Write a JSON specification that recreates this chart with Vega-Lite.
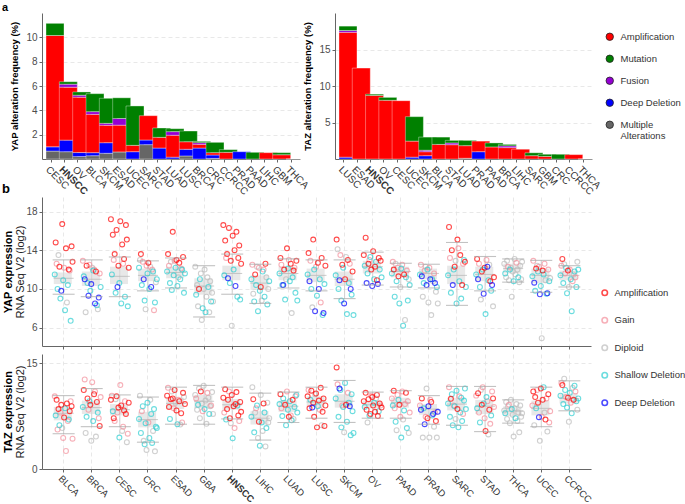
{
"$schema":"https://vega.github.io/schema/vega-lite/v6.json",
"padding":{"left":1,"top":2,"right":0,"bottom":0},
"background":"white",
"config":{
 "font":"Liberation Sans",
 "view":{"stroke":null},
 "axis":{"labelColor":"#4d4d4d","labelFontSize":10,"titleColor":"#000","titleFontSize":11,"domainColor":"#666","tickColor":"#666","tickSize":3,"gridColor":"#e2e2e2","gridDash":[4,3],"gridWidth":0.8,"labelPadding":2},
 "legend":{"labelFontSize":9.5,"labelColor":"#333"}
},
"datasets":{
"yapBar":[
{"t":"CESC","a":1,"v":0.65},{"t":"CESC","a":2,"v":0.35},{"t":"CESC","a":3,"v":9.15},{"t":"CESC","a":5,"v":1.0},
{"t":"HNSCC","a":1,"v":0.6},{"t":"HNSCC","a":2,"v":0.95},{"t":"HNSCC","a":3,"v":4.35},{"t":"HNSCC","a":4,"v":0.25},{"t":"HNSCC","a":5,"v":0.2},
{"t":"OV","a":1,"v":0.2},{"t":"OV","a":2,"v":0.33},{"t":"OV","a":3,"v":4.55},{"t":"OV","a":4,"v":0.16},{"t":"OV","a":5,"v":0.27},
{"t":"BLCA","a":1,"v":0.27},{"t":"BLCA","a":2,"v":0.25},{"t":"BLCA","a":3,"v":3.15},{"t":"BLCA","a":4,"v":0.22},{"t":"BLCA","a":5,"v":1.48},
{"t":"SKCM","a":1,"v":0.47},{"t":"SKCM","a":2,"v":0.87},{"t":"SKCM","a":3,"v":1.43},{"t":"SKCM","a":4,"v":0.16},{"t":"SKCM","a":5,"v":2.06},
{"t":"ESAD","a":1,"v":0.58},{"t":"ESAD","a":3,"v":2.2},{"t":"ESAD","a":4,"v":0.55},{"t":"ESAD","a":5,"v":1.7},
{"t":"UCEC","a":2,"v":0.6},{"t":"UCEC","a":3,"v":0.52},{"t":"UCEC","a":5,"v":3.24},
{"t":"SARC","a":1,"v":1.18},{"t":"SARC","a":2,"v":0.38},{"t":"SARC","a":3,"v":2.0},
{"t":"STAD","a":2,"v":0.9},{"t":"STAD","a":3,"v":0.88},{"t":"STAD","a":5,"v":0.77},
{"t":"LUAD","a":2,"v":0.15},{"t":"LUAD","a":3,"v":1.8},{"t":"LUAD","a":4,"v":0.3},{"t":"LUAD","a":5,"v":0.24},
{"t":"LUSC","a":1,"v":0.25},{"t":"LUSC","a":2,"v":0.55},{"t":"LUSC","a":3,"v":0.62},{"t":"LUSC","a":5,"v":0.88},
{"t":"BRCA","a":2,"v":0.9},{"t":"BRCA","a":3,"v":0.3},{"t":"BRCA","a":4,"v":0.14},{"t":"BRCA","a":5,"v":0.11},
{"t":"CRC","a":1,"v":0.05},{"t":"CRC","a":2,"v":0.28},{"t":"CRC","a":3,"v":0.19},{"t":"CRC","a":5,"v":0.85},
{"t":"CCRCC","a":3,"v":0.55},{"t":"CCRCC","a":5,"v":0.22},
{"t":"PRAD","a":2,"v":0.6},
{"t":"PAAD","a":5,"v":0.55},
{"t":"LIHC","a":3,"v":0.52},
{"t":"GBM","a":3,"v":0.35},{"t":"GBM","a":5,"v":0.17},
{"t":"THCA","a":3,"v":0}
],
"tazBar":[
{"t":"LUSC","a":2,"v":0.25},{"t":"LUSC","a":3,"v":17.1},{"t":"LUSC","a":4,"v":0.25},{"t":"LUSC","a":5,"v":0.6},
{"t":"ESAD","a":3,"v":12.45},
{"t":"HNSCC","a":3,"v":8.7},{"t":"HNSCC","a":5,"v":0.18},
{"t":"OV","a":3,"v":8.04},{"t":"OV","a":5,"v":0.4},
{"t":"CESC","a":3,"v":7.99},
{"t":"UCEC","a":2,"v":0.25},{"t":"UCEC","a":3,"v":2.2},{"t":"UCEC","a":5,"v":3.35},
{"t":"SKCM","a":2,"v":0.45},{"t":"SKCM","a":3,"v":0.55},{"t":"SKCM","a":4,"v":0.2},{"t":"SKCM","a":5,"v":1.8},
{"t":"BLCA","a":3,"v":2.0},{"t":"BLCA","a":5,"v":1.0},
{"t":"STAD","a":3,"v":1.96},{"t":"STAD","a":4,"v":0.24},{"t":"STAD","a":5,"v":0.35},
{"t":"LUAD","a":1,"v":0.1},{"t":"LUAD","a":3,"v":1.73},{"t":"LUAD","a":5,"v":0.72},
{"t":"PRAD","a":2,"v":1.0},{"t":"PRAD","a":3,"v":1.45},
{"t":"PAAD","a":3,"v":1.65},{"t":"PAAD","a":5,"v":0.55},
{"t":"BRCA","a":3,"v":1.56},{"t":"BRCA","a":4,"v":0.24},{"t":"BRCA","a":5,"v":0.2},
{"t":"LIHC","a":3,"v":1.34},
{"t":"SARC","a":3,"v":0.45},{"t":"SARC","a":5,"v":0.4},
{"t":"GBM","a":3,"v":0.35},{"t":"GBM","a":5,"v":0.3},
{"t":"CRC","a":5,"v":0.65},
{"t":"CCRCC","a":3,"v":0.6},
{"t":"THCA","a":3,"v":0}
],
"yapBox":[
{"t":"BLCA","lo":9.45,"q1":10.5,"md":11.1,"q3":11.7,"hi":13.0},
{"t":"BRCA","lo":9.2,"q1":10.3,"md":11.0,"q3":11.8,"hi":13.0},
{"t":"CESC","lo":9.2,"q1":10.5,"md":11.3,"q3":12.3,"hi":13.3},
{"t":"CRC","lo":9.8,"q1":10.8,"md":11.4,"q3":12.1,"hi":12.9},
{"t":"ESAD","lo":10.1,"q1":11.1,"md":11.7,"q3":12.3,"hi":13.2},
{"t":"GBA","lo":7.1,"q1":9.4,"md":10.3,"q3":11.1,"hi":12.4},
{"t":"HNSCC","lo":9.45,"q1":10.9,"md":11.6,"q3":12.4,"hi":13.6},
{"t":"LIHC","lo":8.5,"q1":9.9,"md":10.6,"q3":11.4,"hi":12.55},
{"t":"LUAD","lo":10.1,"q1":10.9,"md":11.6,"q3":12.3,"hi":13.1},
{"t":"LUSC","lo":9.8,"q1":10.7,"md":11.4,"q3":12.1,"hi":13.0},
{"t":"SKCM","lo":9.0,"q1":10.3,"md":11.0,"q3":11.8,"hi":13.0},
{"t":"OV","lo":10.4,"q1":11.6,"md":12.3,"q3":12.9,"hi":13.8},
{"t":"PAAD","lo":10.2,"q1":11.2,"md":11.8,"q3":12.3,"hi":12.65},
{"t":"PRAD","lo":10.1,"q1":11.0,"md":11.6,"q3":12.1,"hi":12.55},
{"t":"SARC","lo":8.3,"q1":10.5,"md":11.4,"q3":12.4,"hi":14.8},
{"t":"STAD","lo":9.8,"q1":10.8,"md":11.5,"q3":12.3,"hi":13.35},
{"t":"THCA","lo":10.7,"q1":11.6,"md":12.1,"q3":12.6,"hi":13.1},
{"t":"UCEC","lo":9.65,"q1":10.6,"md":11.4,"q3":12.1,"hi":12.95},
{"t":"CCRCC","lo":10.2,"q1":10.9,"md":11.4,"q3":11.9,"hi":12.4}
],
"tazBox":[
{"t":"BLCA","lo":5.0,"q1":6.9,"md":7.9,"q3":8.8,"hi":10.4},
{"t":"BRCA","lo":6.0,"q1":7.8,"md":8.7,"q3":9.7,"hi":11.4},
{"t":"CESC","lo":6.0,"q1":7.6,"md":8.4,"q3":9.2,"hi":10.5},
{"t":"CRC","lo":3.8,"q1":5.9,"md":7.0,"q3":8.1,"hi":10.2},
{"t":"ESAD","lo":6.35,"q1":8.5,"md":9.3,"q3":10.1,"hi":11.6},
{"t":"GBA","lo":6.35,"q1":8.6,"md":9.6,"q3":10.5,"hi":11.85},
{"t":"HNSCC","lo":7.1,"q1":8.4,"md":9.1,"q3":9.9,"hi":11.6},
{"t":"LIHC","lo":4.1,"q1":6.3,"md":7.2,"q3":8.2,"hi":10.75},
{"t":"LUAD","lo":6.6,"q1":8.1,"md":8.9,"q3":9.7,"hi":10.9},
{"t":"LUSC","lo":7.2,"q1":8.8,"md":9.5,"q3":10.3,"hi":11.6},
{"t":"SKCM","lo":6.6,"q1":8.7,"md":9.6,"q3":10.6,"hi":12.55},
{"t":"OV","lo":7.2,"q1":8.6,"md":9.1,"q3":9.7,"hi":10.9},
{"t":"PAAD","lo":7.2,"q1":8.7,"md":9.4,"q3":10.1,"hi":11.1},
{"t":"PRAD","lo":6.35,"q1":7.7,"md":8.5,"q3":9.2,"hi":10.4},
{"t":"SARC","lo":6.2,"q1":8.3,"md":9.2,"q3":10.1,"hi":11.7},
{"t":"STAD","lo":5.3,"q1":7.8,"md":8.9,"q3":9.8,"hi":11.7},
{"t":"THCA","lo":6.5,"q1":7.5,"md":8.2,"q3":8.9,"hi":9.8},
{"t":"UCEC","lo":6.0,"q1":7.6,"md":8.6,"q3":9.7,"hi":11.6},
{"t":"CCRCC","lo":8.25,"q1":9.3,"md":10.0,"q3":10.7,"hi":12.5}
],
"yapPts":[
{"t":"BLCA","c":3,"v":11.5},{"t":"BLCA","c":4,"v":14.8},{"t":"BLCA","c":2,"v":12.6},{"t":"BLCA","c":3,"v":10.0},{"t":"BLCA","c":1,"v":13.5},{"t":"BLCA","c":4,"v":12.3},{"t":"BLCA","c":3,"v":9.0},{"t":"BLCA","c":5,"v":9.8},{"t":"BLCA","c":4,"v":16.7},{"t":"BLCA","c":3,"v":10.9},{"t":"BLCA","c":2,"v":12.2},{"t":"BLCA","c":3,"v":7.8},{"t":"BLCA","c":4,"v":14.2},{"t":"BLCA","c":1,"v":8.6},{"t":"BLCA","c":3,"v":10.4},{"t":"BLCA","c":4,"v":12.0},{"t":"BLCA","c":2,"v":11.9},{"t":"BLCA","c":3,"v":6.7},{"t":"BLCA","c":4,"v":14.4},{"t":"BLCA","c":4,"v":12.8},
{"t":"BRCA","c":2,"v":12.9},{"t":"BRCA","c":3,"v":11.3},{"t":"BRCA","c":5,"v":11.0},{"t":"BRCA","c":1,"v":7.6},{"t":"BRCA","c":4,"v":12.4},{"t":"BRCA","c":3,"v":10.6},{"t":"BRCA","c":5,"v":9.3},{"t":"BRCA","c":2,"v":12.5},{"t":"BRCA","c":3,"v":9.8},{"t":"BRCA","c":5,"v":10.5},{"t":"BRCA","c":1,"v":12.2},{"t":"BRCA","c":3,"v":11.9},{"t":"BRCA","c":2,"v":12.0},{"t":"BRCA","c":5,"v":8.5},{"t":"BRCA","c":4,"v":11.8},{"t":"BRCA","c":3,"v":8.3},{"t":"BRCA","c":1,"v":7.9},{"t":"BRCA","c":5,"v":9.1},{"t":"BRCA","c":2,"v":11.6},{"t":"BRCA","c":3,"v":10.2},
{"t":"CESC","c":4,"v":17.2},{"t":"CESC","c":3,"v":11.5},{"t":"CESC","c":4,"v":15.6},{"t":"CESC","c":2,"v":13.0},{"t":"CESC","c":4,"v":13.6},{"t":"CESC","c":3,"v":9.6},{"t":"CESC","c":4,"v":16.1},{"t":"CESC","c":5,"v":10.2},{"t":"CESC","c":4,"v":12.4},{"t":"CESC","c":3,"v":10.6},{"t":"CESC","c":4,"v":17.0},{"t":"CESC","c":3,"v":8.5},{"t":"CESC","c":4,"v":14.6},{"t":"CESC","c":2,"v":12.6},{"t":"CESC","c":4,"v":13.1},{"t":"CESC","c":3,"v":9.2},{"t":"CESC","c":4,"v":16.6},{"t":"CESC","c":4,"v":15.1},{"t":"CESC","c":3,"v":8.2},{"t":"CESC","c":4,"v":12.2},
{"t":"CRC","c":3,"v":12.2},{"t":"CRC","c":1,"v":13.0},{"t":"CRC","c":4,"v":13.6},{"t":"CRC","c":3,"v":10.4},{"t":"CRC","c":2,"v":12.8},{"t":"CRC","c":5,"v":11.0},{"t":"CRC","c":3,"v":8.8},{"t":"CRC","c":1,"v":7.9},{"t":"CRC","c":2,"v":12.4},{"t":"CRC","c":3,"v":11.6},{"t":"CRC","c":4,"v":12.7},{"t":"CRC","c":3,"v":10.0},{"t":"CRC","c":1,"v":12.3},{"t":"CRC","c":5,"v":10.2},{"t":"CRC","c":2,"v":12.0},{"t":"CRC","c":3,"v":11.8},{"t":"CRC","c":2,"v":7.8},{"t":"CRC","c":3,"v":8.6},{"t":"CRC","c":1,"v":10.7},{"t":"CRC","c":3,"v":11.0},
{"t":"ESAD","c":3,"v":11.8},{"t":"ESAD","c":4,"v":13.6},{"t":"ESAD","c":2,"v":12.4},{"t":"ESAD","c":3,"v":10.6},{"t":"ESAD","c":1,"v":12.8},{"t":"ESAD","c":3,"v":9.9},{"t":"ESAD","c":4,"v":15.9},{"t":"ESAD","c":3,"v":11.4},{"t":"ESAD","c":2,"v":12.9},{"t":"ESAD","c":3,"v":12.2},{"t":"ESAD","c":4,"v":13.0},{"t":"ESAD","c":3,"v":10.3},{"t":"ESAD","c":1,"v":11.2},{"t":"ESAD","c":4,"v":12.7},{"t":"ESAD","c":3,"v":11.0},{"t":"ESAD","c":2,"v":12.1},{"t":"ESAD","c":3,"v":12.0},{"t":"ESAD","c":4,"v":13.3},{"t":"ESAD","c":3,"v":9.6},{"t":"ESAD","c":3,"v":11.6},
{"t":"GBA","c":1,"v":12.3},{"t":"GBA","c":3,"v":9.4},{"t":"GBA","c":1,"v":10.4},{"t":"GBA","c":1,"v":8.2},{"t":"GBA","c":4,"v":10.0},{"t":"GBA","c":3,"v":11.0},{"t":"GBA","c":1,"v":11.6},{"t":"GBA","c":1,"v":6.8},{"t":"GBA","c":3,"v":8.0},{"t":"GBA","c":1,"v":10.0},{"t":"GBA","c":1,"v":12.0},{"t":"GBA","c":3,"v":7.6},{"t":"GBA","c":1,"v":9.2},{"t":"GBA","c":1,"v":11.2},{"t":"GBA","c":3,"v":10.2},{"t":"GBA","c":1,"v":7.6},{"t":"GBA","c":1,"v":10.8},{"t":"GBA","c":3,"v":8.7},{"t":"GBA","c":1,"v":9.6},{"t":"GBA","c":1,"v":8.7},
{"t":"HNSCC","c":4,"v":16.6},{"t":"HNSCC","c":3,"v":11.4},{"t":"HNSCC","c":4,"v":15.0},{"t":"HNSCC","c":2,"v":13.2},{"t":"HNSCC","c":4,"v":13.6},{"t":"HNSCC","c":5,"v":11.1},{"t":"HNSCC","c":4,"v":16.3},{"t":"HNSCC","c":3,"v":10.6},{"t":"HNSCC","c":4,"v":12.9},{"t":"HNSCC","c":1,"v":6.2},{"t":"HNSCC","c":4,"v":15.5},{"t":"HNSCC","c":3,"v":12.0},{"t":"HNSCC","c":4,"v":14.0},{"t":"HNSCC","c":5,"v":10.3},{"t":"HNSCC","c":4,"v":15.9},{"t":"HNSCC","c":3,"v":9.2},{"t":"HNSCC","c":4,"v":13.2},{"t":"HNSCC","c":4,"v":14.5},{"t":"HNSCC","c":3,"v":8.9},{"t":"HNSCC","c":4,"v":12.6},
{"t":"LIHC","c":3,"v":11.0},{"t":"LIHC","c":2,"v":12.5},{"t":"LIHC","c":1,"v":9.5},{"t":"LIHC","c":3,"v":8.7},{"t":"LIHC","c":4,"v":11.5},{"t":"LIHC","c":3,"v":10.4},{"t":"LIHC","c":1,"v":12.3},{"t":"LIHC","c":3,"v":7.7},{"t":"LIHC","c":2,"v":12.2},{"t":"LIHC","c":3,"v":9.8},{"t":"LIHC","c":4,"v":10.2},{"t":"LIHC","c":1,"v":8.8},{"t":"LIHC","c":3,"v":11.8},{"t":"LIHC","c":2,"v":12.0},{"t":"LIHC","c":3,"v":9.2},{"t":"LIHC","c":4,"v":12.6},{"t":"LIHC","c":1,"v":11.2},{"t":"LIHC","c":3,"v":8.4},{"t":"LIHC","c":1,"v":10.0},{"t":"LIHC","c":3,"v":10.8},
{"t":"LUAD","c":3,"v":11.6},{"t":"LUAD","c":4,"v":13.2},{"t":"LUAD","c":2,"v":12.5},{"t":"LUAD","c":3,"v":10.4},{"t":"LUAD","c":5,"v":10.4},{"t":"LUAD","c":4,"v":12.0},{"t":"LUAD","c":3,"v":8.9},{"t":"LUAD","c":1,"v":11.0},{"t":"LUAD","c":4,"v":14.2},{"t":"LUAD","c":3,"v":12.1},{"t":"LUAD","c":2,"v":13.0},{"t":"LUAD","c":3,"v":10.8},{"t":"LUAD","c":4,"v":12.6},{"t":"LUAD","c":1,"v":7.5},{"t":"LUAD","c":3,"v":11.2},{"t":"LUAD","c":4,"v":11.9},{"t":"LUAD","c":2,"v":12.2},{"t":"LUAD","c":3,"v":9.6},{"t":"LUAD","c":4,"v":12.9},{"t":"LUAD","c":3,"v":8.8},
{"t":"LUSC","c":3,"v":11.5},{"t":"LUSC","c":4,"v":13.7},{"t":"LUSC","c":5,"v":10.8},{"t":"LUSC","c":2,"v":12.9},{"t":"LUSC","c":3,"v":10.0},{"t":"LUSC","c":1,"v":8.1},{"t":"LUSC","c":4,"v":15.1},{"t":"LUSC","c":3,"v":12.0},{"t":"LUSC","c":5,"v":7.7},{"t":"LUSC","c":2,"v":12.3},{"t":"LUSC","c":3,"v":9.3},{"t":"LUSC","c":4,"v":12.7},{"t":"LUSC","c":5,"v":10.0},{"t":"LUSC","c":3,"v":11.0},{"t":"LUSC","c":2,"v":8.6},{"t":"LUSC","c":4,"v":13.2},{"t":"LUSC","c":3,"v":7.3},{"t":"LUSC","c":5,"v":7.5},{"t":"LUSC","c":3,"v":10.5},{"t":"LUSC","c":4,"v":12.4},
{"t":"SKCM","c":3,"v":11.4},{"t":"SKCM","c":4,"v":15.1},{"t":"SKCM","c":1,"v":14.1},{"t":"SKCM","c":3,"v":10.0},{"t":"SKCM","c":5,"v":10.9},{"t":"SKCM","c":2,"v":13.5},{"t":"SKCM","c":3,"v":8.8},{"t":"SKCM","c":4,"v":12.5},{"t":"SKCM","c":3,"v":12.2},{"t":"SKCM","c":5,"v":8.5},{"t":"SKCM","c":4,"v":11.0},{"t":"SKCM","c":1,"v":13.3},{"t":"SKCM","c":3,"v":7.4},{"t":"SKCM","c":4,"v":13.0},{"t":"SKCM","c":3,"v":10.6},{"t":"SKCM","c":2,"v":12.6},{"t":"SKCM","c":5,"v":10.0},{"t":"SKCM","c":3,"v":9.4},{"t":"SKCM","c":4,"v":11.8},{"t":"SKCM","c":3,"v":7.3},
{"t":"OV","c":4,"v":13.5},{"t":"OV","c":3,"v":12.4},{"t":"OV","c":4,"v":15.3},{"t":"OV","c":5,"v":10.6},{"t":"OV","c":3,"v":11.6},{"t":"OV","c":4,"v":12.6},{"t":"OV","c":2,"v":13.0},{"t":"OV","c":3,"v":13.3},{"t":"OV","c":4,"v":12.0},{"t":"OV","c":5,"v":10.3},{"t":"OV","c":4,"v":13.9},{"t":"OV","c":3,"v":11.0},{"t":"OV","c":4,"v":12.3},{"t":"OV","c":3,"v":12.8},{"t":"OV","c":4,"v":10.9},{"t":"OV","c":5,"v":10.5},{"t":"OV","c":4,"v":13.2},{"t":"OV","c":3,"v":12.0},{"t":"OV","c":4,"v":12.9},{"t":"OV","c":3,"v":11.2},
{"t":"PAAD","c":3,"v":11.6},{"t":"PAAD","c":2,"v":12.8},{"t":"PAAD","c":4,"v":12.0},{"t":"PAAD","c":3,"v":9.2},{"t":"PAAD","c":1,"v":12.6},{"t":"PAAD","c":3,"v":10.8},{"t":"PAAD","c":2,"v":12.2},{"t":"PAAD","c":4,"v":11.3},{"t":"PAAD","c":3,"v":8.5},{"t":"PAAD","c":1,"v":10.2},{"t":"PAAD","c":3,"v":12.1},{"t":"PAAD","c":2,"v":12.5},{"t":"PAAD","c":3,"v":6.2},{"t":"PAAD","c":4,"v":11.5},{"t":"PAAD","c":1,"v":6.8},{"t":"PAAD","c":3,"v":11.2},{"t":"PAAD","c":2,"v":11.9},{"t":"PAAD","c":3,"v":8.8},{"t":"PAAD","c":1,"v":11.0},{"t":"PAAD","c":3,"v":10.4},
{"t":"PRAD","c":3,"v":11.5},{"t":"PRAD","c":2,"v":12.5},{"t":"PRAD","c":5,"v":11.3},{"t":"PRAD","c":1,"v":9.2},{"t":"PRAD","c":3,"v":10.6},{"t":"PRAD","c":2,"v":11.9},{"t":"PRAD","c":1,"v":12.3},{"t":"PRAD","c":5,"v":10.4},{"t":"PRAD","c":3,"v":12.0},{"t":"PRAD","c":1,"v":8.6},{"t":"PRAD","c":2,"v":12.2},{"t":"PRAD","c":5,"v":11.0},{"t":"PRAD","c":1,"v":7.3},{"t":"PRAD","c":3,"v":11.0},{"t":"PRAD","c":1,"v":10.8},{"t":"PRAD","c":2,"v":11.6},{"t":"PRAD","c":5,"v":10.6},{"t":"PRAD","c":1,"v":9.7},{"t":"PRAD","c":3,"v":10.2},{"t":"PRAD","c":1,"v":8.5},
{"t":"SARC","c":3,"v":11.4},{"t":"SARC","c":4,"v":16.4},{"t":"SARC","c":2,"v":13.2},{"t":"SARC","c":3,"v":9.6},{"t":"SARC","c":4,"v":14.0},{"t":"SARC","c":5,"v":10.4},{"t":"SARC","c":3,"v":12.0},{"t":"SARC","c":4,"v":12.3},{"t":"SARC","c":1,"v":12.9},{"t":"SARC","c":3,"v":8.5},{"t":"SARC","c":4,"v":15.1},{"t":"SARC","c":2,"v":14.2},{"t":"SARC","c":3,"v":10.8},{"t":"SARC","c":4,"v":13.5},{"t":"SARC","c":3,"v":9.0},{"t":"SARC","c":4,"v":10.4},{"t":"SARC","c":2,"v":12.6},{"t":"SARC","c":3,"v":13.0},{"t":"SARC","c":4,"v":12.8},{"t":"SARC","c":3,"v":10.2},
{"t":"STAD","c":3,"v":11.5},{"t":"STAD","c":4,"v":13.1},{"t":"STAD","c":5,"v":11.0},{"t":"STAD","c":2,"v":12.6},{"t":"STAD","c":3,"v":10.2},{"t":"STAD","c":1,"v":8.9},{"t":"STAD","c":4,"v":11.8},{"t":"STAD","c":3,"v":12.0},{"t":"STAD","c":5,"v":9.5},{"t":"STAD","c":4,"v":12.2},{"t":"STAD","c":3,"v":7.4},{"t":"STAD","c":2,"v":13.0},{"t":"STAD","c":5,"v":12.3},{"t":"STAD","c":3,"v":10.9},{"t":"STAD","c":1,"v":12.5},{"t":"STAD","c":4,"v":10.8},{"t":"STAD","c":3,"v":9.8},{"t":"STAD","c":5,"v":10.4},{"t":"STAD","c":1,"v":8.2},{"t":"STAD","c":4,"v":11.2},
{"t":"THCA","c":1,"v":12.6},{"t":"THCA","c":3,"v":11.6},{"t":"THCA","c":1,"v":11.2},{"t":"THCA","c":1,"v":12.9},{"t":"THCA","c":2,"v":12.3},{"t":"THCA","c":1,"v":10.9},{"t":"THCA","c":3,"v":12.0},{"t":"THCA","c":1,"v":12.2},{"t":"THCA","c":1,"v":9.2},{"t":"THCA","c":1,"v":11.8},{"t":"THCA","c":3,"v":10.8},{"t":"THCA","c":1,"v":13.1},{"t":"THCA","c":1,"v":11.5},{"t":"THCA","c":2,"v":12.7},{"t":"THCA","c":1,"v":12.0},{"t":"THCA","c":3,"v":11.2},{"t":"THCA","c":1,"v":10.7},{"t":"THCA","c":1,"v":12.4},{"t":"THCA","c":1,"v":11.0},{"t":"THCA","c":1,"v":12.8},
{"t":"UCEC","c":3,"v":11.3},{"t":"UCEC","c":2,"v":12.9},{"t":"UCEC","c":5,"v":10.65},{"t":"UCEC","c":3,"v":9.8},{"t":"UCEC","c":4,"v":12.1},{"t":"UCEC","c":1,"v":12.4},{"t":"UCEC","c":3,"v":11.8},{"t":"UCEC","c":2,"v":12.3},{"t":"UCEC","c":5,"v":9.45},{"t":"UCEC","c":3,"v":10.3},{"t":"UCEC","c":1,"v":4.9},{"t":"UCEC","c":4,"v":11.9},{"t":"UCEC","c":3,"v":11.5},{"t":"UCEC","c":2,"v":12.6},{"t":"UCEC","c":1,"v":10.9},{"t":"UCEC","c":3,"v":9.5},{"t":"UCEC","c":5,"v":9.55},{"t":"UCEC","c":2,"v":12.0},{"t":"UCEC","c":3,"v":10.8},{"t":"UCEC","c":1,"v":11.1},
{"t":"CCRCC","c":3,"v":11.4},{"t":"CCRCC","c":2,"v":12.4},{"t":"CCRCC","c":4,"v":13.1},{"t":"CCRCC","c":3,"v":10.6},{"t":"CCRCC","c":1,"v":12.55},{"t":"CCRCC","c":2,"v":11.6},{"t":"CCRCC","c":3,"v":12.2},{"t":"CCRCC","c":3,"v":9.55},{"t":"CCRCC","c":4,"v":11.9},{"t":"CCRCC","c":1,"v":10.2},{"t":"CCRCC","c":2,"v":12.0},{"t":"CCRCC","c":3,"v":11.0},{"t":"CCRCC","c":3,"v":7.7},{"t":"CCRCC","c":2,"v":10.8},{"t":"CCRCC","c":1,"v":11.5},{"t":"CCRCC","c":3,"v":11.8},{"t":"CCRCC","c":2,"v":11.2},{"t":"CCRCC","c":3,"v":10.2},{"t":"CCRCC","c":1,"v":12.8},{"t":"CCRCC","c":3,"v":12.0}
],
"tazPts":[
{"t":"BLCA","c":2,"v":10.3},{"t":"BLCA","c":3,"v":7.6},{"t":"BLCA","c":4,"v":9.8},{"t":"BLCA","c":2,"v":5.6},{"t":"BLCA","c":4,"v":8.5},{"t":"BLCA","c":3,"v":6.2},{"t":"BLCA","c":2,"v":8.0},{"t":"BLCA","c":4,"v":9.1},{"t":"BLCA","c":1,"v":5.8},{"t":"BLCA","c":2,"v":4.4},{"t":"BLCA","c":4,"v":7.3},{"t":"BLCA","c":3,"v":8.6},{"t":"BLCA","c":2,"v":2.55},{"t":"BLCA","c":4,"v":9.3},{"t":"BLCA","c":2,"v":6.8},{"t":"BLCA","c":3,"v":7.0},{"t":"BLCA","c":4,"v":8.2},{"t":"BLCA","c":2,"v":9.6},{"t":"BLCA","c":4,"v":8.9},{"t":"BLCA","c":2,"v":4.3},
{"t":"BRCA","c":3,"v":8.8},{"t":"BRCA","c":4,"v":11.2},{"t":"BRCA","c":2,"v":12.7},{"t":"BRCA","c":1,"v":5.1},{"t":"BRCA","c":3,"v":7.4},{"t":"BRCA","c":4,"v":10.0},{"t":"BRCA","c":2,"v":8.4},{"t":"BRCA","c":3,"v":9.6},{"t":"BRCA","c":4,"v":9.1},{"t":"BRCA","c":1,"v":4.0},{"t":"BRCA","c":2,"v":12.3},{"t":"BRCA","c":3,"v":6.8},{"t":"BRCA","c":4,"v":10.6},{"t":"BRCA","c":2,"v":11.0},{"t":"BRCA","c":1,"v":4.6},{"t":"BRCA","c":4,"v":9.5},{"t":"BRCA","c":3,"v":8.0},{"t":"BRCA","c":2,"v":7.2},{"t":"BRCA","c":4,"v":6.1},{"t":"BRCA","c":2,"v":10.2},
{"t":"CESC","c":4,"v":9.8},{"t":"CESC","c":2,"v":10.4},{"t":"CESC","c":3,"v":8.2},{"t":"CESC","c":4,"v":7.2},{"t":"CESC","c":2,"v":6.8},{"t":"CESC","c":1,"v":9.9},{"t":"CESC","c":4,"v":10.3},{"t":"CESC","c":2,"v":8.0},{"t":"CESC","c":4,"v":8.7},{"t":"CESC","c":3,"v":4.45},{"t":"CESC","c":2,"v":11.9},{"t":"CESC","c":4,"v":9.0},{"t":"CESC","c":1,"v":5.4},{"t":"CESC","c":2,"v":6.0},{"t":"CESC","c":4,"v":8.3},{"t":"CESC","c":2,"v":9.6},{"t":"CESC","c":4,"v":7.8},{"t":"CESC","c":1,"v":3.8},{"t":"CESC","c":2,"v":5.0},{"t":"CESC","c":4,"v":9.4},
{"t":"CRC","c":3,"v":7.1},{"t":"CRC","c":1,"v":10.4},{"t":"CRC","c":3,"v":5.1},{"t":"CRC","c":2,"v":8.2},{"t":"CRC","c":3,"v":8.9},{"t":"CRC","c":1,"v":4.0},{"t":"CRC","c":3,"v":3.5},{"t":"CRC","c":3,"v":6.5},{"t":"CRC","c":1,"v":2.7},{"t":"CRC","c":3,"v":9.4},{"t":"CRC","c":2,"v":6.6},{"t":"CRC","c":3,"v":4.4},{"t":"CRC","c":1,"v":9.8},{"t":"CRC","c":3,"v":7.8},{"t":"CRC","c":3,"v":3.7},{"t":"CRC","c":1,"v":5.4},{"t":"CRC","c":3,"v":8.5},{"t":"CRC","c":1,"v":2.5},{"t":"CRC","c":3,"v":6.0},{"t":"CRC","c":3,"v":5.8},
{"t":"ESAD","c":4,"v":10.4},{"t":"ESAD","c":2,"v":11.5},{"t":"ESAD","c":4,"v":8.8},{"t":"ESAD","c":3,"v":7.1},{"t":"ESAD","c":4,"v":9.9},{"t":"ESAD","c":1,"v":11.0},{"t":"ESAD","c":4,"v":10.0},{"t":"ESAD","c":2,"v":8.6},{"t":"ESAD","c":4,"v":11.2},{"t":"ESAD","c":1,"v":9.4},{"t":"ESAD","c":4,"v":8.3},{"t":"ESAD","c":3,"v":6.35},{"t":"ESAD","c":2,"v":9.8},{"t":"ESAD","c":4,"v":9.6},{"t":"ESAD","c":1,"v":6.3},{"t":"ESAD","c":4,"v":7.9},{"t":"ESAD","c":2,"v":6.6},{"t":"ESAD","c":4,"v":10.8},{"t":"ESAD","c":1,"v":10.2},{"t":"ESAD","c":4,"v":9.2},
{"t":"GBA","c":1,"v":10.5},{"t":"GBA","c":2,"v":10.0},{"t":"GBA","c":1,"v":8.4},{"t":"GBA","c":3,"v":9.1},{"t":"GBA","c":1,"v":11.4},{"t":"GBA","c":1,"v":7.2},{"t":"GBA","c":4,"v":11.0},{"t":"GBA","c":1,"v":9.3},{"t":"GBA","c":2,"v":8.2},{"t":"GBA","c":1,"v":11.8},{"t":"GBA","c":3,"v":8.5},{"t":"GBA","c":1,"v":9.7},{"t":"GBA","c":1,"v":6.4},{"t":"GBA","c":2,"v":10.8},{"t":"GBA","c":1,"v":10.1},{"t":"GBA","c":3,"v":7.8},{"t":"GBA","c":1,"v":8.9},{"t":"GBA","c":2,"v":9.0},{"t":"GBA","c":1,"v":10.9},{"t":"GBA","c":1,"v":7.8},
{"t":"HNSCC","c":4,"v":10.1},{"t":"HNSCC","c":2,"v":8.0},{"t":"HNSCC","c":4,"v":11.3},{"t":"HNSCC","c":3,"v":7.0},{"t":"HNSCC","c":4,"v":8.5},{"t":"HNSCC","c":4,"v":9.8},{"t":"HNSCC","c":2,"v":11.0},{"t":"HNSCC","c":4,"v":7.2},{"t":"HNSCC","c":1,"v":6.5},{"t":"HNSCC","c":4,"v":10.5},{"t":"HNSCC","c":3,"v":4.35},{"t":"HNSCC","c":4,"v":8.9},{"t":"HNSCC","c":2,"v":5.8},{"t":"HNSCC","c":4,"v":9.2},{"t":"HNSCC","c":4,"v":10.9},{"t":"HNSCC","c":3,"v":9.0},{"t":"HNSCC","c":4,"v":7.6},{"t":"HNSCC","c":2,"v":6.8},{"t":"HNSCC","c":4,"v":9.5},{"t":"HNSCC","c":4,"v":8.1},
{"t":"LIHC","c":3,"v":7.4},{"t":"LIHC","c":1,"v":11.6},{"t":"LIHC","c":4,"v":9.9},{"t":"LIHC","c":3,"v":5.2},{"t":"LIHC","c":1,"v":8.0},{"t":"LIHC","c":2,"v":8.6},{"t":"LIHC","c":3,"v":9.0},{"t":"LIHC","c":1,"v":4.4},{"t":"LIHC","c":4,"v":6.7},{"t":"LIHC","c":3,"v":3.3},{"t":"LIHC","c":1,"v":10.5},{"t":"LIHC","c":3,"v":6.6},{"t":"LIHC","c":1,"v":5.4},{"t":"LIHC","c":4,"v":9.3},{"t":"LIHC","c":3,"v":8.0},{"t":"LIHC","c":1,"v":3.2},{"t":"LIHC","c":3,"v":5.8},{"t":"LIHC","c":1,"v":9.4},{"t":"LIHC","c":1,"v":6.6},{"t":"LIHC","c":1,"v":7.2},
{"t":"LUAD","c":3,"v":9.2},{"t":"LUAD","c":4,"v":10.6},{"t":"LUAD","c":2,"v":8.6},{"t":"LUAD","c":3,"v":7.5},{"t":"LUAD","c":3,"v":10.0},{"t":"LUAD","c":1,"v":9.4},{"t":"LUAD","c":4,"v":9.1},{"t":"LUAD","c":3,"v":6.2},{"t":"LUAD","c":2,"v":11.0},{"t":"LUAD","c":3,"v":8.4},{"t":"LUAD","c":4,"v":7.4},{"t":"LUAD","c":3,"v":9.6},{"t":"LUAD","c":2,"v":7.6},{"t":"LUAD","c":3,"v":6.9},{"t":"LUAD","c":4,"v":9.8},{"t":"LUAD","c":1,"v":7.1},{"t":"LUAD","c":3,"v":8.8},{"t":"LUAD","c":2,"v":10.3},{"t":"LUAD","c":3,"v":10.5},{"t":"LUAD","c":3,"v":8.0},
{"t":"LUSC","c":4,"v":10.3},{"t":"LUSC","c":2,"v":11.2},{"t":"LUSC","c":4,"v":8.6},{"t":"LUSC","c":3,"v":9.8},{"t":"LUSC","c":4,"v":11.1},{"t":"LUSC","c":5,"v":8.7},{"t":"LUSC","c":4,"v":9.4},{"t":"LUSC","c":4,"v":7.4},{"t":"LUSC","c":1,"v":10.6},{"t":"LUSC","c":4,"v":10.7},{"t":"LUSC","c":4,"v":5.9},{"t":"LUSC","c":3,"v":8.9},{"t":"LUSC","c":4,"v":9.7},{"t":"LUSC","c":2,"v":8.4},{"t":"LUSC","c":4,"v":11.5},{"t":"LUSC","c":1,"v":6.2},{"t":"LUSC","c":4,"v":8.1},{"t":"LUSC","c":4,"v":10.0},{"t":"LUSC","c":4,"v":6.1},{"t":"LUSC","c":4,"v":9.0},
{"t":"SKCM","c":3,"v":10.0},{"t":"SKCM","c":4,"v":14.4},{"t":"SKCM","c":2,"v":12.0},{"t":"SKCM","c":3,"v":7.4},{"t":"SKCM","c":5,"v":11.4},{"t":"SKCM","c":3,"v":11.2},{"t":"SKCM","c":3,"v":5.9},{"t":"SKCM","c":2,"v":9.0},{"t":"SKCM","c":3,"v":8.8},{"t":"SKCM","c":1,"v":5.2},{"t":"SKCM","c":3,"v":12.2},{"t":"SKCM","c":4,"v":9.1},{"t":"SKCM","c":3,"v":6.7},{"t":"SKCM","c":2,"v":10.8},{"t":"SKCM","c":3,"v":9.4},{"t":"SKCM","c":5,"v":8.9},{"t":"SKCM","c":3,"v":4.8},{"t":"SKCM","c":3,"v":10.6},{"t":"SKCM","c":3,"v":8.2},{"t":"SKCM","c":3,"v":5.1},
{"t":"OV","c":4,"v":9.6},{"t":"OV","c":3,"v":8.8},{"t":"OV","c":4,"v":10.8},{"t":"OV","c":4,"v":8.4},{"t":"OV","c":1,"v":6.6},{"t":"OV","c":4,"v":9.9},{"t":"OV","c":3,"v":7.6},{"t":"OV","c":4,"v":7.8},{"t":"OV","c":2,"v":10.4},{"t":"OV","c":4,"v":10.2},{"t":"OV","c":4,"v":9.0},{"t":"OV","c":3,"v":9.4},{"t":"OV","c":4,"v":8.1},{"t":"OV","c":1,"v":10.0},{"t":"OV","c":4,"v":10.5},{"t":"OV","c":4,"v":7.5},{"t":"OV","c":3,"v":8.2},{"t":"OV","c":4,"v":9.3},{"t":"OV","c":2,"v":9.0},{"t":"OV","c":4,"v":8.7},
{"t":"PAAD","c":2,"v":10.0},{"t":"PAAD","c":3,"v":9.0},{"t":"PAAD","c":4,"v":11.1},{"t":"PAAD","c":2,"v":8.6},{"t":"PAAD","c":3,"v":6.7},{"t":"PAAD","c":1,"v":5.5},{"t":"PAAD","c":2,"v":10.5},{"t":"PAAD","c":3,"v":9.8},{"t":"PAAD","c":4,"v":9.1},{"t":"PAAD","c":2,"v":7.4},{"t":"PAAD","c":3,"v":4.45},{"t":"PAAD","c":2,"v":11.0},{"t":"PAAD","c":1,"v":7.0},{"t":"PAAD","c":3,"v":8.3},{"t":"PAAD","c":2,"v":9.2},{"t":"PAAD","c":4,"v":10.8},{"t":"PAAD","c":3,"v":5.8},{"t":"PAAD","c":2,"v":9.6},{"t":"PAAD","c":1,"v":5.1},{"t":"PAAD","c":2,"v":8.0},
{"t":"PRAD","c":2,"v":9.0},{"t":"PRAD","c":5,"v":8.4},{"t":"PRAD","c":4,"v":10.0},{"t":"PRAD","c":1,"v":4.45},{"t":"PRAD","c":3,"v":8.6},{"t":"PRAD","c":5,"v":6.35},{"t":"PRAD","c":2,"v":7.4},{"t":"PRAD","c":1,"v":11.4},{"t":"PRAD","c":4,"v":7.2},{"t":"PRAD","c":5,"v":8.9},{"t":"PRAD","c":1,"v":4.45},{"t":"PRAD","c":2,"v":9.8},{"t":"PRAD","c":4,"v":9.5},{"t":"PRAD","c":3,"v":7.6},{"t":"PRAD","c":5,"v":7.8},{"t":"PRAD","c":1,"v":6.0},{"t":"PRAD","c":2,"v":8.0},{"t":"PRAD","c":4,"v":6.8},{"t":"PRAD","c":1,"v":4.45},{"t":"PRAD","c":5,"v":8.1},
{"t":"SARC","c":3,"v":9.3},{"t":"SARC","c":2,"v":11.6},{"t":"SARC","c":3,"v":7.4},{"t":"SARC","c":4,"v":9.95},{"t":"SARC","c":3,"v":10.6},{"t":"SARC","c":3,"v":6.2},{"t":"SARC","c":2,"v":9.0},{"t":"SARC","c":3,"v":8.9},{"t":"SARC","c":1,"v":7.1},{"t":"SARC","c":3,"v":11.1},{"t":"SARC","c":4,"v":8.5},{"t":"SARC","c":3,"v":5.9},{"t":"SARC","c":2,"v":10.3},{"t":"SARC","c":3,"v":8.0},{"t":"SARC","c":3,"v":10.1},{"t":"SARC","c":3,"v":6.8},{"t":"SARC","c":2,"v":7.8},{"t":"SARC","c":3,"v":9.7},{"t":"SARC","c":3,"v":11.4},{"t":"SARC","c":3,"v":8.5},
{"t":"STAD","c":2,"v":10.4},{"t":"STAD","c":3,"v":8.6},{"t":"STAD","c":4,"v":10.75},{"t":"STAD","c":2,"v":8.0},{"t":"STAD","c":3,"v":6.6},{"t":"STAD","c":1,"v":11.2},{"t":"STAD","c":4,"v":9.1},{"t":"STAD","c":2,"v":11.6},{"t":"STAD","c":3,"v":9.3},{"t":"STAD","c":2,"v":7.2},{"t":"STAD","c":4,"v":5.4},{"t":"STAD","c":3,"v":10.2},{"t":"STAD","c":2,"v":9.6},{"t":"STAD","c":1,"v":4.9},{"t":"STAD","c":4,"v":8.4},{"t":"STAD","c":2,"v":6.4},{"t":"STAD","c":3,"v":7.6},{"t":"STAD","c":2,"v":11.0},{"t":"STAD","c":4,"v":10.0},{"t":"STAD","c":2,"v":8.8},
{"t":"THCA","c":1,"v":8.3},{"t":"THCA","c":3,"v":7.9},{"t":"THCA","c":1,"v":9.5},{"t":"THCA","c":1,"v":7.1},{"t":"THCA","c":1,"v":8.9},{"t":"THCA","c":2,"v":9.1},{"t":"THCA","c":1,"v":6.5},{"t":"THCA","c":1,"v":9.8},{"t":"THCA","c":3,"v":8.5},{"t":"THCA","c":1,"v":7.7},{"t":"THCA","c":1,"v":4.6},{"t":"THCA","c":1,"v":8.6},{"t":"THCA","c":3,"v":7.2},{"t":"THCA","c":1,"v":9.2},{"t":"THCA","c":1,"v":6.8},{"t":"THCA","c":1,"v":8.0},{"t":"THCA","c":1,"v":5.2},{"t":"THCA","c":1,"v":9.0},{"t":"THCA","c":1,"v":7.4},{"t":"THCA","c":1,"v":7.9},
{"t":"UCEC","c":2,"v":9.0},{"t":"UCEC","c":4,"v":11.0},{"t":"UCEC","c":1,"v":6.2},{"t":"UCEC","c":4,"v":10.2},{"t":"UCEC","c":3,"v":8.6},{"t":"UCEC","c":2,"v":11.2},{"t":"UCEC","c":4,"v":9.4},{"t":"UCEC","c":5,"v":7.35},{"t":"UCEC","c":1,"v":4.0},{"t":"UCEC","c":4,"v":11.4},{"t":"UCEC","c":2,"v":7.4},{"t":"UCEC","c":4,"v":9.8},{"t":"UCEC","c":3,"v":11.6},{"t":"UCEC","c":1,"v":8.0},{"t":"UCEC","c":4,"v":7.0},{"t":"UCEC","c":2,"v":10.0},{"t":"UCEC","c":1,"v":5.3},{"t":"UCEC","c":4,"v":10.6},{"t":"UCEC","c":2,"v":6.6},{"t":"UCEC","c":2,"v":8.2},
{"t":"CCRCC","c":3,"v":10.4},{"t":"CCRCC","c":2,"v":12.2},{"t":"CCRCC","c":4,"v":11.9},{"t":"CCRCC","c":3,"v":9.2},{"t":"CCRCC","c":1,"v":12.8},{"t":"CCRCC","c":3,"v":11.2},{"t":"CCRCC","c":2,"v":10.2},{"t":"CCRCC","c":3,"v":8.7},{"t":"CCRCC","c":4,"v":10.1},{"t":"CCRCC","c":1,"v":6.7},{"t":"CCRCC","c":3,"v":10.8},{"t":"CCRCC","c":2,"v":9.4},{"t":"CCRCC","c":3,"v":7.9},{"t":"CCRCC","c":1,"v":11.5},{"t":"CCRCC","c":4,"v":9.8},{"t":"CCRCC","c":3,"v":11.8},{"t":"CCRCC","c":2,"v":11.0},{"t":"CCRCC","c":3,"v":9.6},{"t":"CCRCC","c":1,"v":8.4},{"t":"CCRCC","c":3,"v":10.0}
]
},
"resolve":{"scale":{"color":"independent"},"legend":{"color":"independent"}},
"spacing":-14,
"vconcat":[
{
 "bounds":"flush","spacing":35,
 "resolve":{"scale":{"color":"independent"},"legend":{"color":"independent"}},
 "hconcat":[
  {
   "width":258,"height":146,
   "title":{"text":"a","anchor":"start","frame":"group","dx":-40,"fontSize":11,"fontWeight":"bold","offset":0,"color":"#000"},
   "data":{"name":"yapBar"},
   "mark":{"type":"bar","stroke":"#ffffff","strokeWidth":0.6,"strokeOpacity":0.6},
   "encoding":{
    "x":{"field":"t","type":"nominal","title":null,"scale":{"domain":["CESC","HNSCC","OV","BLCA","SKCM","ESAD","UCEC","SARC","STAD","LUAD","LUSC","BRCA","CRC","CCRCC","PRAD","PAAD","LIHC","GBM","THCA"],"paddingInner":0.25,"paddingOuter":0.3},"axis":{"labelAngle":45,"labelColor":"#333","labelFontWeight":{"condition":{"test":"datum.value === 'HNSCC'","value":"bold"},"value":"normal"}}},
    "y":{"field":"v","type":"quantitative","stack":"zero","title":"YAP alteration frequency (%)","scale":{"domain":[0,12],"nice":false},"axis":{"values":[2,4,6,8,10],"grid":true,"titleFontSize":9.5,"titleFontWeight":"bold","titlePadding":6}},
    "color":{"field":"a","type":"nominal","scale":{"domain":[3,5,4,2,1],"range":["#ff0000","#008000","#9400d3","#0000ff","#666666"]},"legend":null},
    "order":{"field":"a","type":"quantitative","sort":"ascending"}
   }
  },
  {
   "width":257,"height":146,
   "data":{"name":"tazBar"},
   "mark":{"type":"bar","stroke":"#ffffff","strokeWidth":0.6,"strokeOpacity":0.6},
   "encoding":{
    "x":{"field":"t","type":"nominal","title":null,"scale":{"domain":["LUSC","ESAD","HNSCC","OV","CESC","UCEC","SKCM","BLCA","STAD","LUAD","PRAD","PAAD","BRCA","LIHC","SARC","GBM","CRC","CCRCC","THCA"],"paddingInner":0.25,"paddingOuter":0.3},"axis":{"labelAngle":45,"labelColor":"#333","labelFontWeight":{"condition":{"test":"datum.value === 'HNSCC'","value":"bold"},"value":"normal"}}},
    "y":{"field":"v","type":"quantitative","stack":"zero","title":"TAZ alteration frequency (%)","scale":{"domain":[0,20],"nice":false},"axis":{"values":[5,10,15],"grid":true,"titleFontSize":9.5,"titleFontWeight":"bold","titlePadding":6}},
    "color":{"field":"a","type":"nominal","scale":{"domain":[3,5,4,2,1],"range":["#ff0000","#008000","#9400d3","#0000ff","#666666"]},
      "legend":{"orient":"none","legendX":270,"legendY":19,"title":null,"symbolType":"circle","symbolSize":55,"symbolStrokeColor":"#222","symbolStrokeWidth":0.8,"rowPadding":10,"labelFontSize":9.5,"labelOffset":6,"labelColor":"#333",
      "labelExpr":"datum.value == 3 ? 'Amplification' : datum.value == 5 ? 'Mutation' : datum.value == 4 ? 'Fusion' : datum.value == 2 ? 'Deep Deletion' : ['Multiple','Alterations']"}},
    "order":{"field":"a","type":"quantitative","sort":"ascending"}
   }
  }
 ]
},
{
 "bounds":"flush","spacing":8,
 "resolve":{"scale":{"color":"independent"},"legend":{"color":"independent"}},
 "vconcat":[
  {
   "width":549,"height":149,
   "title":{"text":"b","anchor":"start","frame":"group","dx":-40,"fontSize":13,"fontWeight":"bold","offset":1,"color":"#000"},
   "resolve":{"scale":{"y":"independent"},"axis":{"y":"independent"}},
   "layer":[
    {
     "layer":[
      {"data":{"name":"yapBox"},"mark":{"type":"rule","color":"#d0d0d0","strokeWidth":1},
       "encoding":{
        "x":{"field":"t","type":"nominal","title":null,"scale":{"domain":["BLCA","BRCA","CESC","CRC","ESAD","GBA","HNSCC","LIHC","LUAD","LUSC","SKCM","OV","PAAD","PRAD","SARC","STAD","THCA","UCEC","CCRCC"],"paddingInner":0.3,"paddingOuter":0.42},"axis":{"labels":false,"ticks":true,"grid":true,"bandPosition":0.5}},
        "y":{"field":"lo","type":"quantitative","title":"RNA Seq V2 (log2)","scale":{"domain":[4.1,19.5],"nice":false,"zero":false},"axis":{"values":[6,8,10,12,14,16,18],"grid":true,"titleFontWeight":"normal","titleFontSize":11,"titleX":-17,"titleY":74.5,"titleColor":"#222"}},
        "y2":{"field":"hi"}}},
      {"data":{"name":"yapBox"},"mark":{"type":"bar","color":"#d8d8d8","opacity":0.6},
       "encoding":{
        "x":{"field":"t","type":"nominal","title":null,"scale":{"domain":["BLCA","BRCA","CESC","CRC","ESAD","GBA","HNSCC","LIHC","LUAD","LUSC","SKCM","OV","PAAD","PRAD","SARC","STAD","THCA","UCEC","CCRCC"],"paddingInner":0.3,"paddingOuter":0.42}},
        "y":{"field":"q1","type":"quantitative","title":"RNA Seq V2 (log2)","scale":{"domain":[4.1,19.5],"nice":false,"zero":false}},
        "y2":{"field":"q3"}}},
      {"data":{"name":"yapBox"},"mark":{"type":"tick","color":"#b4b4b4","size":20,"thickness":1},
       "encoding":{
        "x":{"field":"t","type":"nominal","title":null,"scale":{"domain":["BLCA","BRCA","CESC","CRC","ESAD","GBA","HNSCC","LIHC","LUAD","LUSC","SKCM","OV","PAAD","PRAD","SARC","STAD","THCA","UCEC","CCRCC"],"paddingInner":0.3,"paddingOuter":0.42}},
        "y":{"field":"md","type":"quantitative","title":"RNA Seq V2 (log2)","scale":{"domain":[4.1,19.5],"nice":false,"zero":false}}}},
      {"data":{"name":"yapPts"},
       "transform":[{"window":[{"op":"row_number","as":"j"}],"groupby":["t"]}],
       "mark":{"type":"point","filled":false,"size":24,"strokeWidth":1.1},
       "encoding":{
        "x":{"field":"t","type":"nominal","title":null,"scale":{"domain":["BLCA","BRCA","CESC","CRC","ESAD","GBA","HNSCC","LIHC","LUAD","LUSC","SKCM","OV","PAAD","PRAD","SARC","STAD","THCA","UCEC","CCRCC"],"paddingInner":0.3,"paddingOuter":0.42}},
        "xOffset":{"field":"j","type":"nominal","scale":{"paddingOuter":3}},
        "y":{"field":"v","type":"quantitative","title":"RNA Seq V2 (log2)","scale":{"domain":[4.1,19.5],"nice":false,"zero":false}},
        "color":{"field":"c","type":"nominal","scale":{"domain":[4,2,1,3,5],"range":["#ff0000","#f4909c","#bdbdbd","#2fcfd2","#0000ff"]},
          "legend":{"orient":"none","legendX":558,"legendY":91,"title":null,"symbolType":"circle","symbolSize":30,"symbolStrokeWidth":1.6,"rowPadding":14.5,"labelFontSize":9.5,"labelOffset":5,"labelColor":"#333",
          "labelExpr":"datum.value == 4 ? 'Amplification' : datum.value == 2 ? 'Gain' : datum.value == 1 ? 'Diploid' : datum.value == 3 ? 'Shallow Deletion' : 'Deep Deletion'"}},
        "order":{"field":"c","type":"quantitative"}}}
     ]
    },
    {"data":{"name":"yapBox"},"transform":[{"fold":["lo","hi"]}],"mark":{"type":"tick","color":"#a8a8a8","size":22,"thickness":1.1},
     "encoding":{
      "x":{"field":"t","type":"nominal","title":null,"scale":{"domain":["BLCA","BRCA","CESC","CRC","ESAD","GBA","HNSCC","LIHC","LUAD","LUSC","SKCM","OV","PAAD","PRAD","SARC","STAD","THCA","UCEC","CCRCC"],"paddingInner":0.3,"paddingOuter":0.42}},
      "y":{"field":"value","type":"quantitative","title":"YAP expression","scale":{"domain":[4.1,19.5],"nice":false,"zero":false},"axis":{"orient":"left","labels":false,"ticks":false,"domain":false,"grid":false,"titleFontWeight":"bold","titleFontSize":11,"titleX":-29,"titleY":74.5,"titleColor":"#000"}}}}
   ]
  },
  {
   "width":549,"height":115,
   "resolve":{"scale":{"y":"independent"},"axis":{"y":"independent"}},
   "layer":[
    {
     "layer":[
      {"data":{"name":"tazBox"},"mark":{"type":"rule","color":"#d0d0d0","strokeWidth":1},
       "encoding":{
        "x":{"field":"t","type":"nominal","title":null,"scale":{"domain":["BLCA","BRCA","CESC","CRC","ESAD","GBA","HNSCC","LIHC","LUAD","LUSC","SKCM","OV","PAAD","PRAD","SARC","STAD","THCA","UCEC","CCRCC"],"paddingInner":0.3,"paddingOuter":0.42},"axis":{"labelAngle":45,"labelFontSize":9.5,"labelPadding":1,"labelColor":"#333","ticks":true,"grid":true,"bandPosition":0.5,"labelFontWeight":{"condition":{"test":"datum.value === 'HNSCC'","value":"bold"},"value":"normal"}}},
        "y":{"field":"lo","type":"quantitative","title":"RNA Seq V2 (log2)","scale":{"domain":[0,16.3],"nice":false,"zero":false},"axis":{"values":[0,5,10,15],"grid":true,"titleFontWeight":"normal","titleFontSize":11,"titleX":-17,"titleY":57.5,"titleColor":"#222"}},
        "y2":{"field":"hi"}}},
      {"data":{"name":"tazBox"},"mark":{"type":"bar","color":"#d8d8d8","opacity":0.6},
       "encoding":{
        "x":{"field":"t","type":"nominal","title":null,"scale":{"domain":["BLCA","BRCA","CESC","CRC","ESAD","GBA","HNSCC","LIHC","LUAD","LUSC","SKCM","OV","PAAD","PRAD","SARC","STAD","THCA","UCEC","CCRCC"],"paddingInner":0.3,"paddingOuter":0.42}},
        "y":{"field":"q1","type":"quantitative","title":"RNA Seq V2 (log2)","scale":{"domain":[0,16.3],"nice":false,"zero":false}},
        "y2":{"field":"q3"}}},
      {"data":{"name":"tazBox"},"mark":{"type":"tick","color":"#b4b4b4","size":20,"thickness":1},
       "encoding":{
        "x":{"field":"t","type":"nominal","title":null,"scale":{"domain":["BLCA","BRCA","CESC","CRC","ESAD","GBA","HNSCC","LIHC","LUAD","LUSC","SKCM","OV","PAAD","PRAD","SARC","STAD","THCA","UCEC","CCRCC"],"paddingInner":0.3,"paddingOuter":0.42}},
        "y":{"field":"md","type":"quantitative","title":"RNA Seq V2 (log2)","scale":{"domain":[0,16.3],"nice":false,"zero":false}}}},
      {"data":{"name":"tazPts"},
       "transform":[{"window":[{"op":"row_number","as":"j"}],"groupby":["t"]}],
       "mark":{"type":"point","filled":false,"size":24,"strokeWidth":1.1},
       "encoding":{
        "x":{"field":"t","type":"nominal","title":null,"scale":{"domain":["BLCA","BRCA","CESC","CRC","ESAD","GBA","HNSCC","LIHC","LUAD","LUSC","SKCM","OV","PAAD","PRAD","SARC","STAD","THCA","UCEC","CCRCC"],"paddingInner":0.3,"paddingOuter":0.42}},
        "xOffset":{"field":"j","type":"nominal","scale":{"paddingOuter":3}},
        "y":{"field":"v","type":"quantitative","title":"RNA Seq V2 (log2)","scale":{"domain":[0,16.3],"nice":false,"zero":false}},
        "color":{"field":"c","type":"nominal","scale":{"domain":[4,2,1,3,5],"range":["#ff0000","#f4909c","#bdbdbd","#2fcfd2","#0000ff"]},"legend":null},
        "order":{"field":"c","type":"quantitative"}}}
     ]
    },
    {"data":{"name":"tazBox"},"transform":[{"fold":["lo","hi"]}],"mark":{"type":"tick","color":"#a8a8a8","size":22,"thickness":1.1},
     "encoding":{
      "x":{"field":"t","type":"nominal","title":null,"scale":{"domain":["BLCA","BRCA","CESC","CRC","ESAD","GBA","HNSCC","LIHC","LUAD","LUSC","SKCM","OV","PAAD","PRAD","SARC","STAD","THCA","UCEC","CCRCC"],"paddingInner":0.3,"paddingOuter":0.42}},
      "y":{"field":"value","type":"quantitative","title":"TAZ expression","scale":{"domain":[0,16.3],"nice":false,"zero":false},"axis":{"orient":"left","labels":false,"ticks":false,"domain":false,"grid":false,"titleFontWeight":"bold","titleFontSize":11,"titleX":-29,"titleY":57.5,"titleColor":"#000"}}}}
   ]
  }
 ]
}
]
}
